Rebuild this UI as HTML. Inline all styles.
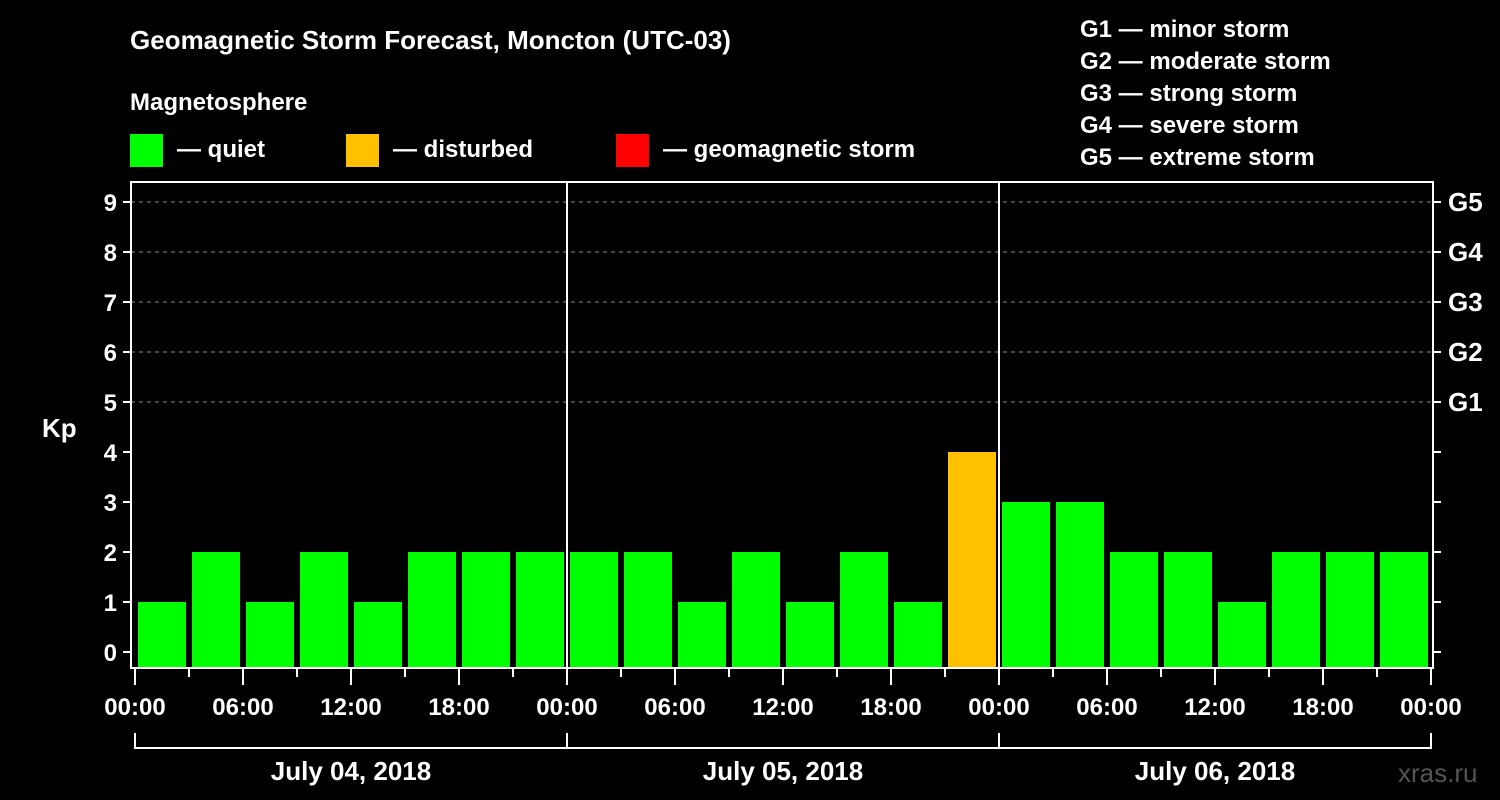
<!DOCTYPE html>
<html><head><meta charset="utf-8"><style>
html,body{margin:0;padding:0;background:#000;}
svg{display:block;font-family:"Liberation Sans",Arial,sans-serif;font-weight:bold;}
</style></head><body>
<svg id="chart" width="1500" height="800" viewBox="0 0 1500 800">
<text x="130" y="49" fill="#fff" font-size="26">Geomagnetic Storm Forecast, Moncton (UTC-03)</text>
<text x="130" y="110" fill="#fff" font-size="24">Magnetosphere</text>
<g><rect x="130" y="134" width="33" height="33" fill="#00ff00"/><text x="177" y="157" fill="#fff" font-size="24">— quiet</text></g>
<g><rect x="346" y="134" width="33" height="33" fill="#ffc000"/><text x="393" y="157" fill="#fff" font-size="24">— disturbed</text></g>
<g><rect x="616" y="134" width="33" height="33" fill="#ff0000"/><text x="663" y="157" fill="#fff" font-size="24">— geomagnetic storm</text></g>
<g fill="#fff" font-size="24">
<text x="1080" y="37">G1 — minor storm</text>
<text x="1080" y="69">G2 — moderate storm</text>
<text x="1080" y="101">G3 — strong storm</text>
<text x="1080" y="133">G4 — severe storm</text>
<text x="1080" y="165">G5 — extreme storm</text>
</g>
<text x="42" y="437" fill="#fff" font-size="26">Kp</text>
<text x="1398" y="782" fill="#555" font-size="26" font-weight="normal">xras.ru</text>
<g id="plot"></g>
</svg>
<script>
const kpValues=[1,2,1,2,1,2,2,2, 2,2,1,2,1,2,1,4, 3,3,2,2,1,2,2,2];
const dayLabels=["July 04, 2018","July 05, 2018","July 06, 2018"];
const hourLabels=["00:00","06:00","12:00","18:00"];
const yTicks=[0,1,2,3,4,5,6,7,8,9];
const gLabels=["G1","G2","G3","G4","G5"];

const X0=135,SLOT=54,Y0=652,UNIT=50,TOP=182,BOT=668,LEFT=131,RIGHT=1433;
const xs=i=>X0+i*SLOT;
const ys=v=>Y0-v*UNIT;
const ns="http://www.w3.org/2000/svg";
const g=document.getElementById("plot");
function mk(t,a){const e=document.createElementNS(ns,t);for(const k in a)e.setAttribute(k,a[k]);g.appendChild(e);return e;}
function col(v){return v>=5?"#ff0000":(v>=4?"#ffc000":"#00ff00");}

// grid
yTicks.forEach(v=>{
  if(v>=5){const l=mk("line",{x1:LEFT,x2:RIGHT,y1:ys(v),y2:ys(v),stroke:"#888","stroke-width":1,"stroke-dasharray":"4,4"});
  
  }
});
// bars
kpValues.forEach((v,i)=>{
  const r=mk("rect",{x:xs(i)+3,y:ys(v),width:SLOT-6,height:BOT-ys(v),fill:col(v)});
  
  
});
// frame
const fr=mk("rect",{x:LEFT,y:TOP,width:RIGHT-LEFT,height:BOT-TOP,fill:"none",stroke:"#fff","stroke-width":2});


for(let d=1;d<dayLabels.length;d++){
  const l=mk("line",{x1:xs(d*8),x2:xs(d*8),y1:TOP,y2:BOT,stroke:"#fff","stroke-width":2});
  
  
}
// y ticks
yTicks.forEach(v=>{
  mk("line",{x1:LEFT-8,x2:LEFT,y1:ys(v),y2:ys(v),stroke:"#fff","stroke-width":2});
  mk("line",{x1:RIGHT,x2:RIGHT+8,y1:ys(v),y2:ys(v),stroke:"#fff","stroke-width":2});
  const t=mk("text",{x:LEFT-14,y:ys(v)+9,fill:"#fff","font-size":24,"text-anchor":"end"});
  t.textContent=v;
  
  
});
gLabels.forEach((s,i)=>{
  const t=mk("text",{x:1448,y:ys(5+i)+9,fill:"#fff","font-size":26});
  t.textContent=s;
  
  
});
// x ticks
for(let i=0;i<=kpValues.length;i++){
  const major=i%2===0;
  mk("line",{x1:xs(i),x2:xs(i),y1:BOT,y2:BOT+(major?17:9),stroke:"#fff","stroke-width":2});
  if(major){
    const t=mk("text",{x:xs(i),y:715,fill:"#fff","font-size":24,"text-anchor":"middle"});
    t.textContent=hourLabels[(i/2)%4];
    
    
  }
}
// date bracket
mk("line",{x1:xs(0),x2:xs(24),y1:748,y2:748,stroke:"#fff","stroke-width":2});
for(let d=0;d<=dayLabels.length;d++){
  mk("line",{x1:xs(d*8),x2:xs(d*8),y1:733,y2:749,stroke:"#fff","stroke-width":2});
}
dayLabels.forEach((s,d)=>{
  const t=mk("text",{x:xs(d*8+4),y:780,fill:"#fff","font-size":26,"text-anchor":"middle"});
  t.textContent=s;
  
  
});
</script>
</body></html>
